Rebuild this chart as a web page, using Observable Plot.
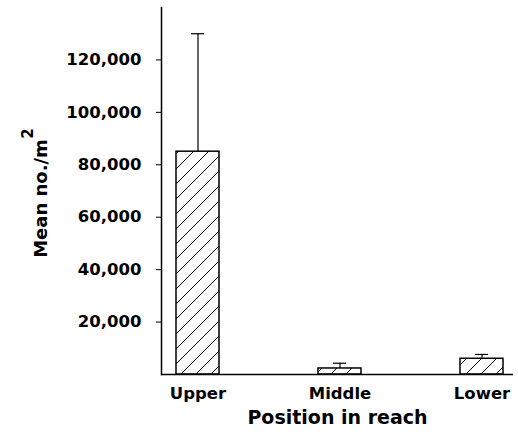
<!DOCTYPE html>
<html>
<head>
<meta charset="utf-8">
<script src="https://cdn.jsdelivr.net/npm/d3@7"></script>
<script src="https://cdn.jsdelivr.net/npm/@observablehq/plot@0.6"></script>
<style>
  html, body { margin: 0; padding: 0; background: white; }
</style>
</head>
<body>
<div id="chart"></div>
<script>
const positions = ["Upper", "Middle", "Lower"];
const means = [85000, 2300, 6000];
const errors = [45000, 2000, 1650];
const yTicks = [20000, 40000, 60000, 80000, 100000, 120000];
const xTitle = "Position in reach";
const yTitle = "Mean no./m";
const yTitleSup = "2";

const data = positions.map((p, i) => ({position: p, mean: means[i], top: means[i] + errors[i]}));

const chart = Plot.plot({
  width: 518,
  height: 438,
  marginLeft: 161,
  marginRight: 5,
  marginTop: 7,
  marginBottom: 64,
  style: {fontFamily: "DejaVu Sans", fontSize: "16.5px", fontWeight: "bold", color: "black", background: "white"},
  x: {domain: positions, paddingInner: 0.698, paddingOuter: 0.086, align: 0.6},
  y: {domain: [0, 140000]},
  marks: [
    Plot.barY(data, {x: "position", y: "mean", fill: "white"}),
    Plot.barY(data, {x: "position", y: "mean", fill: "url(#hatch)", stroke: "black", strokeWidth: 1.5}),
    Plot.ruleX(data, {x: "position", y1: "mean", y2: "top", stroke: "black", strokeWidth: 1.2}),
    Plot.tickY(data, {x: "position", y: "top", stroke: "black", strokeWidth: 1.2, insetLeft: 15, insetRight: 15}),
    Plot.ruleY([0], {stroke: "black", strokeWidth: 1.5}),
    Plot.frame({anchor: "left", stroke: "black", strokeWidth: 1.5}),
    Plot.axisY({ticks: yTicks, tickFormat: d3.format(","), tickSize: 5, tickPadding: 15, label: null, fontWeight: "bold"}),
    Plot.axisX({tickSize: 0, tickPadding: 13, label: null, fontWeight: "bold"}),
    Plot.text([xTitle], {frameAnchor: "bottom", lineAnchor: "bottom", dy: 49, fontSize: 19, fontWeight: "bold"}),
    Plot.text([yTitle], {frameAnchor: "left", textAnchor: "middle", lineAnchor: "bottom", rotate: -90, dx: -115, dy: 7.5, fontSize: 18, fontWeight: "bold"}),
    Plot.text([yTitleSup], {frameAnchor: "left", textAnchor: "middle", lineAnchor: "bottom", rotate: -90, dx: -129, dy: -57.5, fontSize: 15, fontWeight: "bold"})
  ]
});

// hatch pattern definition
const svg = d3.select(chart);
const defs = svg.insert("defs", ":first-child");
const pat = defs.append("pattern")
  .attr("id", "hatch")
  .attr("patternUnits", "userSpaceOnUse")
  .attr("width", 15)
  .attr("height", 15);
pat.append("path")
  .attr("d", "M0,15L15,0M-3.75,3.75L3.75,-3.75M11.25,18.75L18.75,11.25")
  .attr("stroke", "black")
  .attr("stroke-width", 1);

document.getElementById("chart").appendChild(chart);
</script>
</body>
</html>
